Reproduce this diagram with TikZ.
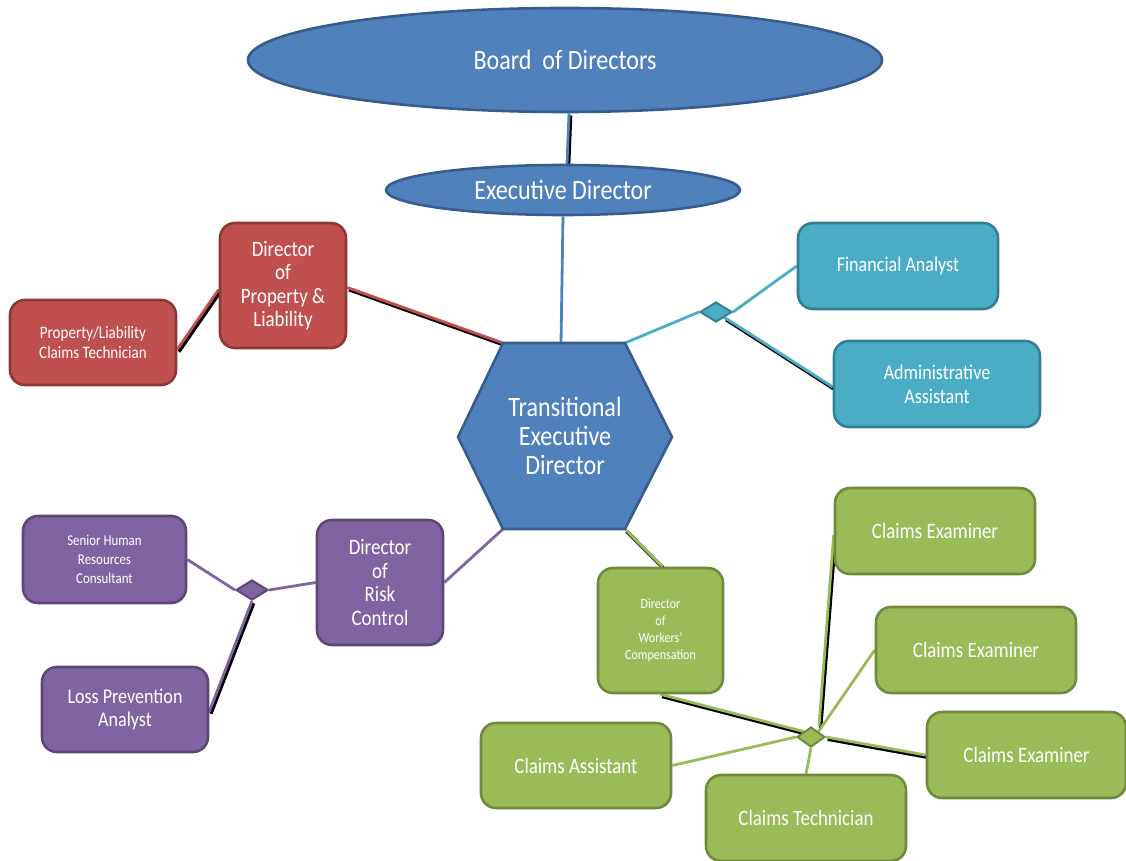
\documentclass[tikz,border=0pt]{standalone}
\usepackage{fontspec}
\setmainfont{Carlito}[FakeStretch=0.86]
\usetikzlibrary{shapes.geometric}
\pgfdeclarelayer{bg}
\pgfsetlayers{bg,main}
\definecolor{bfill}{HTML}{4F81BD}\definecolor{bdraw}{HTML}{385D8A}
\definecolor{rfill}{HTML}{C0504D}\definecolor{rdraw}{HTML}{8C3836}
\definecolor{cfill}{HTML}{4BACC6}\definecolor{cdraw}{HTML}{357D91}
\definecolor{pfill}{HTML}{8064A2}\definecolor{pdraw}{HTML}{5C4776}
\definecolor{gfill}{HTML}{9BBB59}\definecolor{gdraw}{HTML}{71893F}
\tikzset{
  fs/.style n args={2}{font=\fontsize{#1}{#2}\selectfont},
  box/.style={rectangle, rounded corners=15pt, line width=2.6pt, text=white, align=center, inner sep=2pt},
  oval/.style={ellipse, fill=bfill, draw=bdraw, line width=2.6pt, text=white, inner sep=0pt},
  redbox/.style={box, fill=rfill, draw=rdraw},
  cyanbox/.style={box, fill=cfill, draw=cdraw},
  purbox/.style={box, fill=pfill, draw=pdraw},
  grnbox/.style={box, fill=gfill, draw=gdraw},
  link/.style={line width=2.8pt},
  shd/.style={preaction={draw=black, line width=3.4pt, transform canvas={shift={(1.6pt,-2.2pt)}}}},
  dia/.style={diamond, inner sep=0pt, minimum width=32pt, minimum height=20pt, aspect=1.6, line width=2pt},
}
\begin{document}
\begin{tikzpicture}[x=1pt,y=-1pt]
\useasboundingbox (0,0) rectangle (1126,861);
% ovals
\node[oval, minimum width=634pt, minimum height=104pt, fs={28}{30}] (board) at (565,60) {Board \ of Directors};
\node[oval, minimum width=354pt, minimum height=50pt, fs={28}{30}] (exec) at (563,190) {Executive Director};
% hexagon
\coordinate (htl) at (503,343);
\coordinate (htr) at (625,343);
\coordinate (hr) at (672,437);
\coordinate (hbr) at (625,529);
\coordinate (hbl) at (503,529);
\coordinate (hl) at (458,437);
\coordinate (htop) at (561,343);
\draw[fill=bfill, draw=bdraw, line width=2.6pt, line join=round] (htl) -- (htr) -- (hr) -- (hbr) -- (hbl) -- (hl) -- cycle;
\node[text=white, align=center, fs={28}{29}] (hex) at (565,436) {Transitional\\Executive\\Director};
% red
\node[redbox, minimum width=126pt, minimum height=125pt, fs={22}{23.5}] (dpl) at (283,285.5) {Director\\of\\Property \&\\Liability};
\node[redbox, minimum width=166pt, minimum height=85pt, fs={17.5}{20}] (plct) at (93,342.5) {Property/Liability\\Claims Technician};
% cyan
\node[cyanbox, minimum width=200pt, minimum height=86pt, fs={21}{24}] (fa) at (898,266) {Financial Analyst};
\node[cyanbox, minimum width=206pt, minimum height=86pt, fs={21}{24}] (aa) at (937,384) {Administrative\\Assistant};
\node[dia, fill=cfill, draw=cdraw] (cd) at (716,312) {};
% purple
\node[purbox, minimum width=163pt, minimum height=87pt, fs={15}{19}] (shr) at (104.5,559.5) {Senior Human\\Resources\\Consultant};
\node[purbox, minimum width=166pt, minimum height=85pt, fs={21}{23}] (lpa) at (125,709.5) {Loss Prevention\\Analyst};
\node[purbox, minimum width=126pt, minimum height=125pt, fs={22}{23.5}] (drc) at (380,582.5) {Director\\of\\Risk\\Control};
\node[dia, fill=pfill, draw=pdraw] (pd) at (252,590) {};
% green
\node[grnbox, minimum width=125pt, minimum height=125pt, fs={14}{17}] (dwc) at (660.5,630.5) {Director\\of\\Workers'\\Compensation};
\node[grnbox, minimum width=200pt, minimum height=86pt, fs={22}{24}] (ce1) at (935,531) {Claims Examiner};
\node[grnbox, minimum width=200pt, minimum height=86pt, fs={22}{24}] (ce2) at (976,650) {Claims Examiner};
\node[grnbox, minimum width=199pt, minimum height=86pt, fs={22}{24}] (ce3) at (1026.5,755) {Claims Examiner};
\node[grnbox, minimum width=190pt, minimum height=85pt, fs={22}{24}] (ca) at (576,765.5) {Claims Assistant};
\node[grnbox, minimum width=200pt, minimum height=86pt, fs={22}{24}] (ct) at (806,818) {Claims Technician};
\node[dia, minimum width=28pt, minimum height=20pt, fill=gfill, draw=gdraw] (gd) at (811,737) {};
% connectors
\begin{pgfonlayer}{bg}
\draw[link, shd, draw=bfill] ([xshift=4pt]board.south) -- ([xshift=4pt]exec.north);
\draw[link, draw=bfill] (exec.south) -- (htop);
\draw[link, shd, draw=rfill] (htl) -- ([yshift=-2pt]dpl.east);
\draw[link, shd, draw=rfill] ([yshift=-4pt]dpl.west) -- ([yshift=-7pt]plct.east);
\draw[link, draw=cfill] (htr) -- (cd.west);
\draw[link, draw=cfill] (cd.east) -- (fa.west);
\draw[link, shd, draw=cfill] (cd.south east) -- ([yshift=-3pt]aa.west);
\draw[link, draw=pfill] (hbl) -- (drc.east);
\draw[link, draw=pfill] (drc.west) -- (pd.east);
\draw[link, draw=pfill] (shr.east) -- (pd.west);
\draw[link, shd, draw=pfill] (pd.south) -- ([yshift=-2pt]lpa.east);
\draw[link, shd, draw=gfill] (hbr) -- ([xshift=2pt]dwc.north);
\draw[link, shd, draw=gfill] (dwc.south) -- (gd.north west);
\draw[link, shd, draw=gfill] ([xshift=8pt]gd.north) -- ([yshift=-4pt]ce1.west);
\draw[link, draw=gfill] (gd.north east) -- (ce2.west);
\draw[link, shd, draw=gfill] (gd.east) -- (ce3.west);
\draw[link, draw=gfill] (gd.west) -- (ca.east);
\draw[link, draw=gfill] (gd.south) -- (ct.north);
\end{pgfonlayer}
\end{tikzpicture}
\end{document}
